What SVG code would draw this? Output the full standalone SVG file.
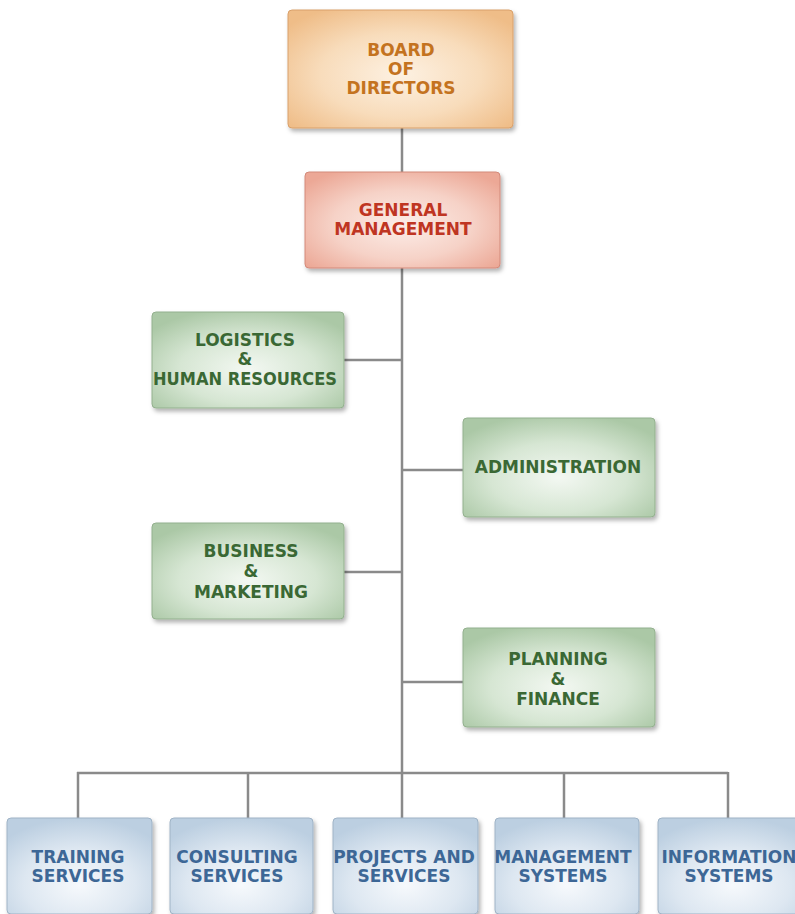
<svg xmlns="http://www.w3.org/2000/svg" width="795" height="914" viewBox="0 0 795 914">
<defs>
<radialGradient id="gOr" cx="50%" cy="55%" r="65%"><stop offset="0" stop-color="#fdf1e2"/><stop offset="0.55" stop-color="#f8dcbb"/><stop offset="1" stop-color="#efbd88"/></radialGradient>
<radialGradient id="gRd" cx="50%" cy="55%" r="65%"><stop offset="0" stop-color="#fcede8"/><stop offset="0.55" stop-color="#f6d2c7"/><stop offset="1" stop-color="#eca896"/></radialGradient>
<radialGradient id="gGr" cx="50%" cy="60%" r="65%"><stop offset="0" stop-color="#f3f8f2"/><stop offset="0.55" stop-color="#d6e6d3"/><stop offset="1" stop-color="#abc8a6"/></radialGradient>
<radialGradient id="gBl" cx="50%" cy="70%" r="70%"><stop offset="0" stop-color="#f6f9fc"/><stop offset="0.55" stop-color="#dde7f1"/><stop offset="1" stop-color="#bccfe1"/></radialGradient>
<filter id="sh" x="-10%" y="-10%" width="125%" height="130%"><feDropShadow dx="2" dy="3" stdDeviation="2" flood-color="#000" flood-opacity="0.3"/></filter>
</defs>
<style>
rect.box{stroke-width:1;filter:url(#sh)}
.or rect{fill:url(#gOr);stroke:#d9a06a}
.rd rect{fill:url(#gRd);stroke:#d38a7a}
.gr rect{fill:url(#gGr);stroke:#93b08e}
.bl rect{fill:url(#gBl);stroke:#9fb3c6}
text{font-family:"DejaVu Sans","Liberation Sans",sans-serif;font-weight:bold;font-size:17px;text-anchor:middle}
.or text{fill:#c4731f}
.rd text{fill:#bf3522}
.gr text{fill:#3a6834}
.bl text{fill:#3d6796}
#connectors line{stroke:#8a8a8a;stroke-width:2.5;fill:none}
</style>
<g id="connectors">
<line x1="402" y1="128" x2="402" y2="773"/>
<line x1="344" y1="360" x2="402" y2="360"/>
<line x1="402" y1="470" x2="463" y2="470"/>
<line x1="344" y1="572" x2="402" y2="572"/>
<line x1="402" y1="682" x2="463" y2="682"/>
<line x1="77" y1="773" x2="728" y2="773"/>
<line x1="78" y1="772" x2="78" y2="818"/>
<line x1="248" y1="772" x2="248" y2="818"/>
<line x1="402" y1="772" x2="402" y2="818"/>
<line x1="564" y1="772" x2="564" y2="818"/>
<line x1="728" y1="772" x2="728" y2="818"/>
</g>
<g id="board" class="or"><rect class="box" x="288" y="10" width="225" height="118" rx="4"/>
<text x="401" y="56">BOARD</text><text x="401" y="74.5">OF</text><text x="401" y="94">DIRECTORS</text></g>
<g id="general" class="rd"><rect class="box" x="305" y="172" width="195" height="96" rx="4"/>
<text x="403" y="216">GENERAL</text><text x="403" y="235">MANAGEMENT</text></g>
<g id="logistics" class="gr"><rect class="box" x="152" y="312" width="192" height="96" rx="4"/>
<text x="245" y="346">LOGISTICS</text><text x="245" y="365">&amp;</text><text x="245" y="385" textLength="184" lengthAdjust="spacingAndGlyphs">HUMAN RESOURCES</text></g>
<g id="administration" class="gr"><rect class="box" x="463" y="418" width="192" height="99" rx="4"/>
<text x="558" y="473">ADMINISTRATION</text></g>
<g id="business" class="gr"><rect class="box" x="152" y="523" width="192" height="96" rx="4"/>
<text x="251" y="557">BUSINESS</text><text x="251" y="577">&amp;</text><text x="251" y="598">MARKETING</text></g>
<g id="planning" class="gr"><rect class="box" x="463" y="628" width="192" height="99" rx="4"/>
<text x="558" y="665">PLANNING</text><text x="558" y="685">&amp;</text><text x="558" y="705">FINANCE</text></g>
<g id="training" class="bl"><rect class="box" x="7" y="818" width="145" height="96" rx="4"/>
<text x="78" y="863">TRAINING</text><text x="78" y="882">SERVICES</text></g>
<g id="consulting" class="bl"><rect class="box" x="170" y="818" width="143" height="96" rx="4"/>
<text x="237" y="863">CONSULTING</text><text x="237" y="882">SERVICES</text></g>
<g id="projects" class="bl"><rect class="box" x="333" y="818" width="145" height="96" rx="4"/>
<text x="404" y="863">PROJECTS AND</text><text x="404" y="882">SERVICES</text></g>
<g id="management" class="bl"><rect class="box" x="495" y="818" width="144" height="96" rx="4"/>
<text x="563" y="863">MANAGEMENT</text><text x="563" y="882">SYSTEMS</text></g>
<g id="information" class="bl"><rect class="box" x="658" y="818" width="150" height="96" rx="4"/>
<text x="729" y="863">INFORMATION</text><text x="729" y="882">SYSTEMS</text></g>
</svg>
